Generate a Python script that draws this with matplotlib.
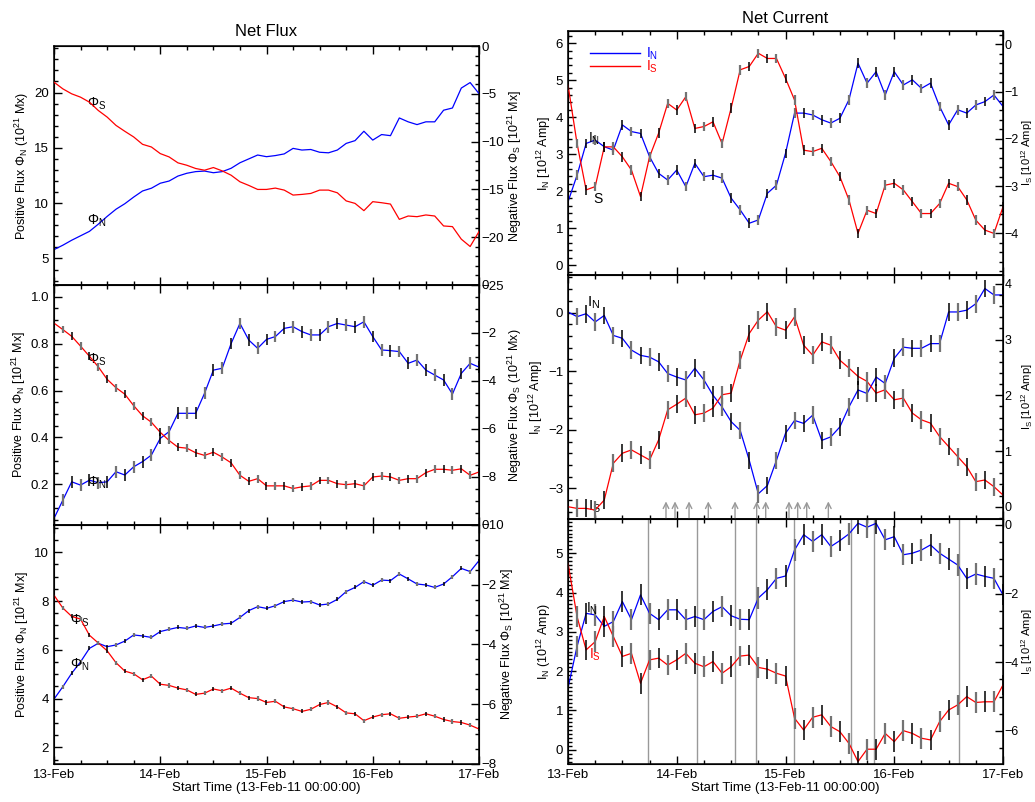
import numpy as np
import matplotlib
matplotlib.use("Agg")
import matplotlib.pyplot as plt
from matplotlib.ticker import AutoMinorLocator, MultipleLocator
import matplotlib.transforms as mtransforms

plt.rcParams['font.family'] = ['Liberation Sans', 'DejaVu Sans']
plt.rcParams['mathtext.fontset'] = 'custom'
plt.rcParams['mathtext.rm'] = 'Liberation Sans'
plt.rcParams['mathtext.it'] = 'Liberation Sans:italic'
plt.rcParams['mathtext.bf'] = 'Liberation Sans:bold'

# time grid, hours since 13-Feb-11 00:00 (2 h sampling)
hours = list(range(0, 97, 2))
day_labels = ['13-Feb', '14-Feb', '15-Feb', '16-Feb', '17-Feb']

# ---- Net Flux, panel 1 (10^21 Mx)
flux1_pos = [5.8, 6.2, 6.65, 7.05, 7.45, 8.1, 8.8, 9.45, 9.95, 10.55, 11.1, 11.35, 11.8,
             12.0, 12.45, 12.7, 12.85, 12.9, 12.75, 12.85, 13.15, 13.65, 14.0, 14.35, 14.2,
             14.3, 14.45, 14.95, 14.8, 14.85, 14.6, 14.55, 14.8, 15.4, 15.65, 16.5, 15.7,
             16.2, 16.1, 17.7, 17.35, 17.1, 17.35, 17.35, 18.4, 18.6, 20.4, 20.9, 19.9]
flux1_neg = [-3.78, -4.48, -5.0, -5.35, -5.87, -6.74, -7.43, -8.3, -8.92, -9.51, -10.28,
             -10.56, -11.25, -11.6, -12.22, -12.47, -12.81, -12.99, -12.71, -13.06, -13.51,
             -14.2, -14.58, -15.0, -15.0, -14.86, -15.07, -15.59, -15.52, -15.42, -15.07,
             -15.07, -15.35, -16.2, -16.46, -17.22, -16.28, -16.39, -16.53, -18.13, -17.78,
             -17.85, -17.67, -17.78, -18.82, -18.89, -20.2, -20.97, -19.41]

# ---- Net Flux, panel 2
flux2_pos = [0.055, 0.133, 0.211, 0.197, 0.218, 0.207, 0.211, 0.254, 0.24, 0.275, 0.297,
             0.325, 0.396, 0.425, 0.503, 0.503, 0.503, 0.588, 0.687, 0.695, 0.80, 0.886,
             0.815, 0.78, 0.818, 0.83, 0.865, 0.872, 0.851, 0.837, 0.837, 0.872, 0.886,
             0.879, 0.872, 0.893, 0.83, 0.773, 0.77, 0.766, 0.716, 0.73, 0.687, 0.666,
             0.645, 0.585, 0.673, 0.716, 0.70]
flux2_neg = [-1.59, -1.86, -2.14, -2.55, -2.97, -3.41, -3.93, -4.28, -4.55, -5.03, -5.45,
             -5.72, -6.14, -6.48, -6.76, -6.8, -6.99, -7.1, -6.97, -7.17, -7.41, -7.93,
             -8.18, -8.07, -8.37, -8.37, -8.37, -8.48, -8.41, -8.37, -8.14, -8.14, -8.28,
             -8.32, -8.28, -8.37, -8.0, -7.96, -8.0, -8.14, -8.07, -8.07, -7.82, -7.68,
             -7.68, -7.72, -7.66, -7.93, -7.79]

# ---- Net Flux, panel 3
flux3_pos = [3.98, 4.49, 5.04, 5.51, 6.06, 6.27, 6.13, 6.2, 6.36, 6.61, 6.57, 6.51, 6.75,
             6.84, 6.92, 6.88, 6.98, 6.92, 6.98, 7.06, 7.09, 7.33, 7.61, 7.77, 7.70, 7.81,
             7.98, 8.04, 7.96, 7.98, 7.84, 7.88, 8.07, 8.39, 8.56, 8.8, 8.65, 8.86, 8.84,
             9.11, 8.91, 8.70, 8.66, 8.56, 8.70, 9.0, 9.34, 9.21, 9.66]
flux3_neg = [-2.35, -2.78, -3.06, -3.15, -3.69, -3.95, -4.21, -4.61, -4.89, -4.98, -5.18,
             -5.06, -5.33, -5.37, -5.46, -5.52, -5.67, -5.63, -5.49, -5.55, -5.46, -5.63,
             -5.78, -5.81, -5.94, -5.9, -6.09, -6.15, -6.24, -6.17, -6.01, -5.94, -6.09,
             -6.29, -6.32, -6.55, -6.43, -6.35, -6.32, -6.47, -6.43, -6.4, -6.32, -6.4,
             -6.51, -6.58, -6.61, -6.7, -6.83]

# ---- Net Current, panel 1 (10^12 Amp)
cur1_n = [1.71, 2.43, 3.29, 3.38, 3.2, 3.11, 3.79, 3.61, 3.56, 2.93, 2.48, 2.30, 2.57,
          2.12, 2.75, 2.39, 2.43, 2.35, 1.81, 1.49, 1.13, 1.22, 1.94, 2.16, 3.02, 4.11,
          4.11, 4.06, 3.93, 3.84, 3.97, 4.47, 5.46, 4.92, 5.23, 4.60, 5.23, 4.87, 5.01,
          4.78, 4.92, 4.29, 3.79, 4.2, 4.11, 4.33, 4.42, 4.6, 4.29]
cur1_s = [-0.86, -2.10, -3.08, -3.01, -2.17, -2.17, -2.38, -2.66, -3.22, -2.38, -1.88,
          -1.25, -1.39, -1.11, -1.78, -1.74, -1.64, -2.1, -1.35, -0.54, -0.47, -0.19,
          -0.3, -0.3, -0.72, -1.18, -2.24, -2.27, -2.2, -2.48, -2.8, -3.29, -4.0, -3.51,
          -3.58, -2.98, -2.94, -3.08, -3.33, -3.58, -3.58, -3.37, -2.94, -3.01, -3.29,
          -3.72, -3.93, -4.0, -3.44]

# ---- Net Current, panel 2
cur2_n = [0.01, -0.07, -0.02, -0.16, -0.05, -0.39, -0.44, -0.64, -0.73, -0.76, -0.84,
          -1.04, -1.10, -1.15, -0.95, -1.15, -1.41, -1.61, -1.86, -2.01, -2.52, -3.09,
          -2.95, -2.52, -2.06, -1.84, -1.89, -1.75, -2.18, -2.12, -1.95, -1.61, -1.32,
          -1.38, -1.10, -1.21, -0.78, -0.59, -0.61, -0.61, -0.53, -0.53, 0.01, 0.01,
          0.04, 0.15, 0.41, 0.30, 0.30]
cur2_s = [0.0, -0.03, -0.03, -0.06, 0.12, 0.78, 0.96, 1.02, 0.93, 0.84, 1.2, 1.74, 1.84,
          1.95, 1.65, 1.68, 1.77, 2.01, 2.04, 2.63, 3.11, 3.35, 3.5, 3.23, 3.17, 3.41,
          2.90, 2.72, 2.96, 2.90, 2.63, 2.49, 2.34, 2.25, 2.04, 2.10, 1.92, 1.95, 1.68,
          1.56, 1.50, 1.26, 1.08, 0.90, 0.72, 0.45, 0.48, 0.36, 0.21]

# ---- Net Current, panel 3
cur3_n = [1.57, 2.63, 3.47, 3.43, 3.14, 3.26, 3.77, 3.31, 3.94, 3.47, 3.31, 3.56, 3.56,
          3.31, 3.39, 3.31, 3.52, 3.64, 3.41, 3.32, 3.31, 3.86, 4.07, 4.36, 4.42, 5.08,
          5.47, 5.30, 5.47, 5.17, 5.32, 5.49, 5.76, 5.66, 5.76, 5.34, 5.42, 4.96, 5.0,
          5.08, 5.21, 5.0, 4.85, 4.70, 4.36, 4.47, 4.41, 4.36, 3.94]
cur3_s = [-1.12, -2.67, -3.64, -3.40, -2.67, -3.25, -3.83, -3.74, -4.61, -3.93, -3.88,
          -4.08, -3.93, -3.74, -4.03, -4.13, -3.98, -4.32, -4.13, -3.82, -3.79, -4.15,
          -4.20, -4.32, -4.40, -5.63, -5.97, -5.60, -5.53, -5.87, -6.02, -6.36, -6.89,
          -6.53, -6.53, -6.07, -6.31, -5.99, -6.07, -6.21, -6.26, -5.73, -5.39, -5.24,
          -5.0, -5.17, -5.15, -5.15, -4.66]

# event markers (days after 13-Feb 00:00)
arrow_days = [0.901, 0.984, 1.113, 1.290, 1.536, 1.735, 1.818, 2.032, 2.112, 2.195, 2.394]
vline_days = [0.733, 1.189, 1.533, 1.726, 2.075, 2.602, 2.814, 3.598]

t = np.array(hours) / 24.0

fig = plt.figure(figsize=(10.35, 8.02), dpi=100)

BLUE = '#0000ff'
RED = '#ff0000'
TICK_FS = 9.5
LAB_FS = 9


def make_panel(rect, left, right, ylim_l, ylim_r, major_l, minor_l, major_r, minor_r,
               lab_l, lab_r, err_l=None, err_r=None, bottom=False, rfs=LAB_FS, rlab_x=None,
               rtick_fs=TICK_FS, rpad=2):
    ax = fig.add_axes(rect)
    ax2 = ax.twinx()
    ax.set_xlim(0, 4)
    ax.set_ylim(*ylim_l)
    ax2.set_ylim(*ylim_r)
    ax.xaxis.set_major_locator(MultipleLocator(1))
    ax.xaxis.set_minor_locator(AutoMinorLocator(4))
    ax.yaxis.set_major_locator(MultipleLocator(major_l))
    ax.yaxis.set_minor_locator(AutoMinorLocator(minor_l))
    ax2.yaxis.set_major_locator(MultipleLocator(major_r))
    ax2.yaxis.set_minor_locator(AutoMinorLocator(minor_r))
    ax.tick_params(which='both', direction='in', top=True, right=False,
                   labelsize=TICK_FS, width=1)
    ax.tick_params(which='major', length=6)
    ax.tick_params(which='minor', length=3)
    ax2.tick_params(which='both', direction='in', labelsize=rtick_fs, width=1)
    ax2.tick_params(which='major', length=6, pad=rpad)
    ax2.tick_params(which='minor', length=3)
    if bottom:
        ax.set_xticks(range(5))
        ax.set_xticklabels(day_labels)
        ax.set_xlabel('Start Time (13-Feb-11 00:00:00)', fontsize=LAB_FS + 0.5, labelpad=1)
    else:
        ax.set_xticklabels([])
    ax.set_ylabel(lab_l, fontsize=LAB_FS, labelpad=2)
    ax2.set_ylabel(lab_r, fontsize=rfs, labelpad=1)
    if rlab_x is not None:
        ax2.yaxis.set_label_coords(rlab_x, 0.5)
    for s in ax.spines.values():
        s.set_linewidth(1.1)

    ax.plot(t, left, color=BLUE, lw=0.9, zorder=3)
    ax2.plot(t, right, color=RED, lw=0.9, zorder=3)
    if err_l is not None:
        ax.errorbar(t[::2], np.array(left)[::2], yerr=err_l, fmt='none',
                    ecolor='black', elinewidth=1.1, zorder=4)
        ax.errorbar(t[1::2], np.array(left)[1::2], yerr=err_l, fmt='none',
                    ecolor='0.45', elinewidth=1.6, zorder=4)
    if err_r is not None:
        ax2.errorbar(t[::2], np.array(right)[::2], yerr=err_r, fmt='none',
                     ecolor='black', elinewidth=1.1, zorder=4)
        ax2.errorbar(t[1::2], np.array(right)[1::2], yerr=err_r, fmt='none',
                     ecolor='0.45', elinewidth=1.6, zorder=4)
    return ax, ax2


xl, wl = 54 / 1035, 425 / 1035
xr, wr = 568 / 1035, 435 / 1035
RIGHT_COL = dict(rfs=8, rlab_x=1.037, rtick_fs=9, rpad=1)

# --- left column: Net Flux
a1, b1 = make_panel([xl, 0.6446, wl, 0.2980], flux1_pos, flux1_neg, (2.6, 24.2), (-25, 0),
                    5, 5, 5, 5,
                    r'Positive Flux $\Phi_\mathrm{N}$ (10$^{21}$ Mx)',
                    r'Negative Flux $\Phi_\mathrm{S}$ [10$^{21}$ Mx]')
a1.set_title('Net Flux', fontsize=12, pad=7)
a1.text(0.10, 0.757, r'$\Phi_\mathrm{S}$', transform=a1.transAxes, fontsize=10,
        ha='center', va='center', zorder=6)
a1.text(0.10, 0.268, r'$\Phi_\mathrm{N}$', transform=a1.transAxes, fontsize=10,
        ha='center', va='center', zorder=6)

a2, b2 = make_panel([xl, 0.3454, wl, 0.2993], flux2_pos, flux2_neg, (0.027, 1.05), (-10, 0),
                    0.2, 4, 2, 4,
                    r'Positive Flux $\Phi_\mathrm{N}$ [10$^{21}$ Mx]',
                    r'Negative Flux $\Phi_\mathrm{S}$ (10$^{21}$ Mx)',
                    err_l=0.025, err_r=0.16)
a2.text(0.10, 0.69, r'$\Phi_\mathrm{S}$', transform=a2.transAxes, fontsize=10,
        ha='center', va='center', zorder=6)
a2.text(0.10, 0.175, r'$\Phi_\mathrm{N}$', transform=a2.transAxes, fontsize=10,
        ha='center', va='center', zorder=6)

a3, b3 = make_panel([xl, 0.0474, wl, 0.2980], flux3_pos, flux3_neg, (1.32, 11.12), (-8, 0),
                    2, 4, 2, 4,
                    r'Positive Flux $\Phi_\mathrm{N}$ [10$^{21}$ Mx]',
                    r'Negative Flux $\Phi_\mathrm{S}$ [10$^{21}$ Mx]',
                    err_l=0.08, err_r=0.07, bottom=True)
a3.text(0.06, 0.60, r'$\Phi_\mathrm{S}$', transform=a3.transAxes, fontsize=10,
        ha='center', va='center', zorder=6)
a3.text(0.06, 0.414, r'$\Phi_\mathrm{N}$', transform=a3.transAxes, fontsize=10,
        ha='center', va='center', zorder=6)

# --- right column: Net Current
c1, d1 = make_panel([xr, 0.6571, wr, 0.3042], cur1_n, cur1_s, (-0.27, 6.33), (-4.88, 0.28),
                    1, 5, 1, 5,
                    r'I$_\mathrm{N}$ [10$^{12}$ Amp]', r'I$_\mathrm{S}$ [10$^{12}$ Amp]',
                    err_l=0.13, err_r=0.1, **RIGHT_COL)
c1.set_title('Net Current', fontsize=12, pad=6)
c1.plot([0.05, 0.166], [0.911, 0.911], color=BLUE, lw=1, transform=c1.transAxes)
c1.plot([0.05, 0.166], [0.857, 0.857], color=RED, lw=1, transform=c1.transAxes)
c1.text(0.18, 0.908, r'I$_\mathrm{N}$', color=BLUE, transform=c1.transAxes, fontsize=10,
        va='center')
c1.text(0.18, 0.852, r'I$_\mathrm{S}$', color=RED, transform=c1.transAxes, fontsize=10,
        va='center')
c1.text(0.06, 0.56, r'I$_\mathrm{N}$', transform=c1.transAxes, fontsize=10,
        ha='center', va='center', zorder=6)
c1.text(0.068, 0.31, 'S', transform=c1.transAxes, fontsize=10,
        ha='center', va='center', zorder=6)

c2, d2 = make_panel([xr, 0.3529, wr, 0.3042], cur2_n, cur2_s, (-3.52, 0.64), (-0.22, 4.16),
                    1, 5, 1, 5,
                    r'I$_\mathrm{N}$ [10$^{12}$ Amp]', r'I$_\mathrm{S}$ [10$^{12}$ Amp]',
                    err_l=0.15, err_r=0.16, **RIGHT_COL)
c2.text(0.06, 0.885, r'I$_\mathrm{N}$', transform=c2.transAxes, fontsize=11,
        ha='center', va='center', zorder=6)
c2.text(0.06, 0.05, r'I$_\mathrm{S}$', transform=c2.transAxes, fontsize=11,
        ha='center', va='center', zorder=6)
trans = mtransforms.blended_transform_factory(c2.transData, c2.transAxes)
for d in arrow_days:
    c2.annotate('', xy=(d, 0.072), xytext=(d, 0.0), xycoords=trans, textcoords=trans,
                arrowprops=dict(arrowstyle='->', color='0.6', lw=1.0,
                                shrinkA=0, shrinkB=0, mutation_scale=10))

c3, d3 = make_panel([xr, 0.0474, wr, 0.3055], cur3_n, cur3_s, (-0.36, 5.87), (-6.96, 0.17),
                    1, 10, 2, 4,
                    r'I$_\mathrm{N}$ (10$^{12}$ Amp)', r'I$_\mathrm{S}$ [10$^{12}$ Amp]',
                    err_l=0.27, err_r=0.3, bottom=True, **RIGHT_COL)
for d in vline_days:
    c3.axvline(d, color='0.6', lw=1.0, zorder=1)
c3.text(0.055, 0.635, r'I$_\mathrm{N}$', transform=c3.transAxes, fontsize=10,
        ha='center', va='center', zorder=6)
c3.text(0.062, 0.445, r'I$_\mathrm{S}$', color=RED, transform=c3.transAxes, fontsize=10,
        ha='center', va='center', zorder=6)

fig.savefig('out.png', dpi=100)
